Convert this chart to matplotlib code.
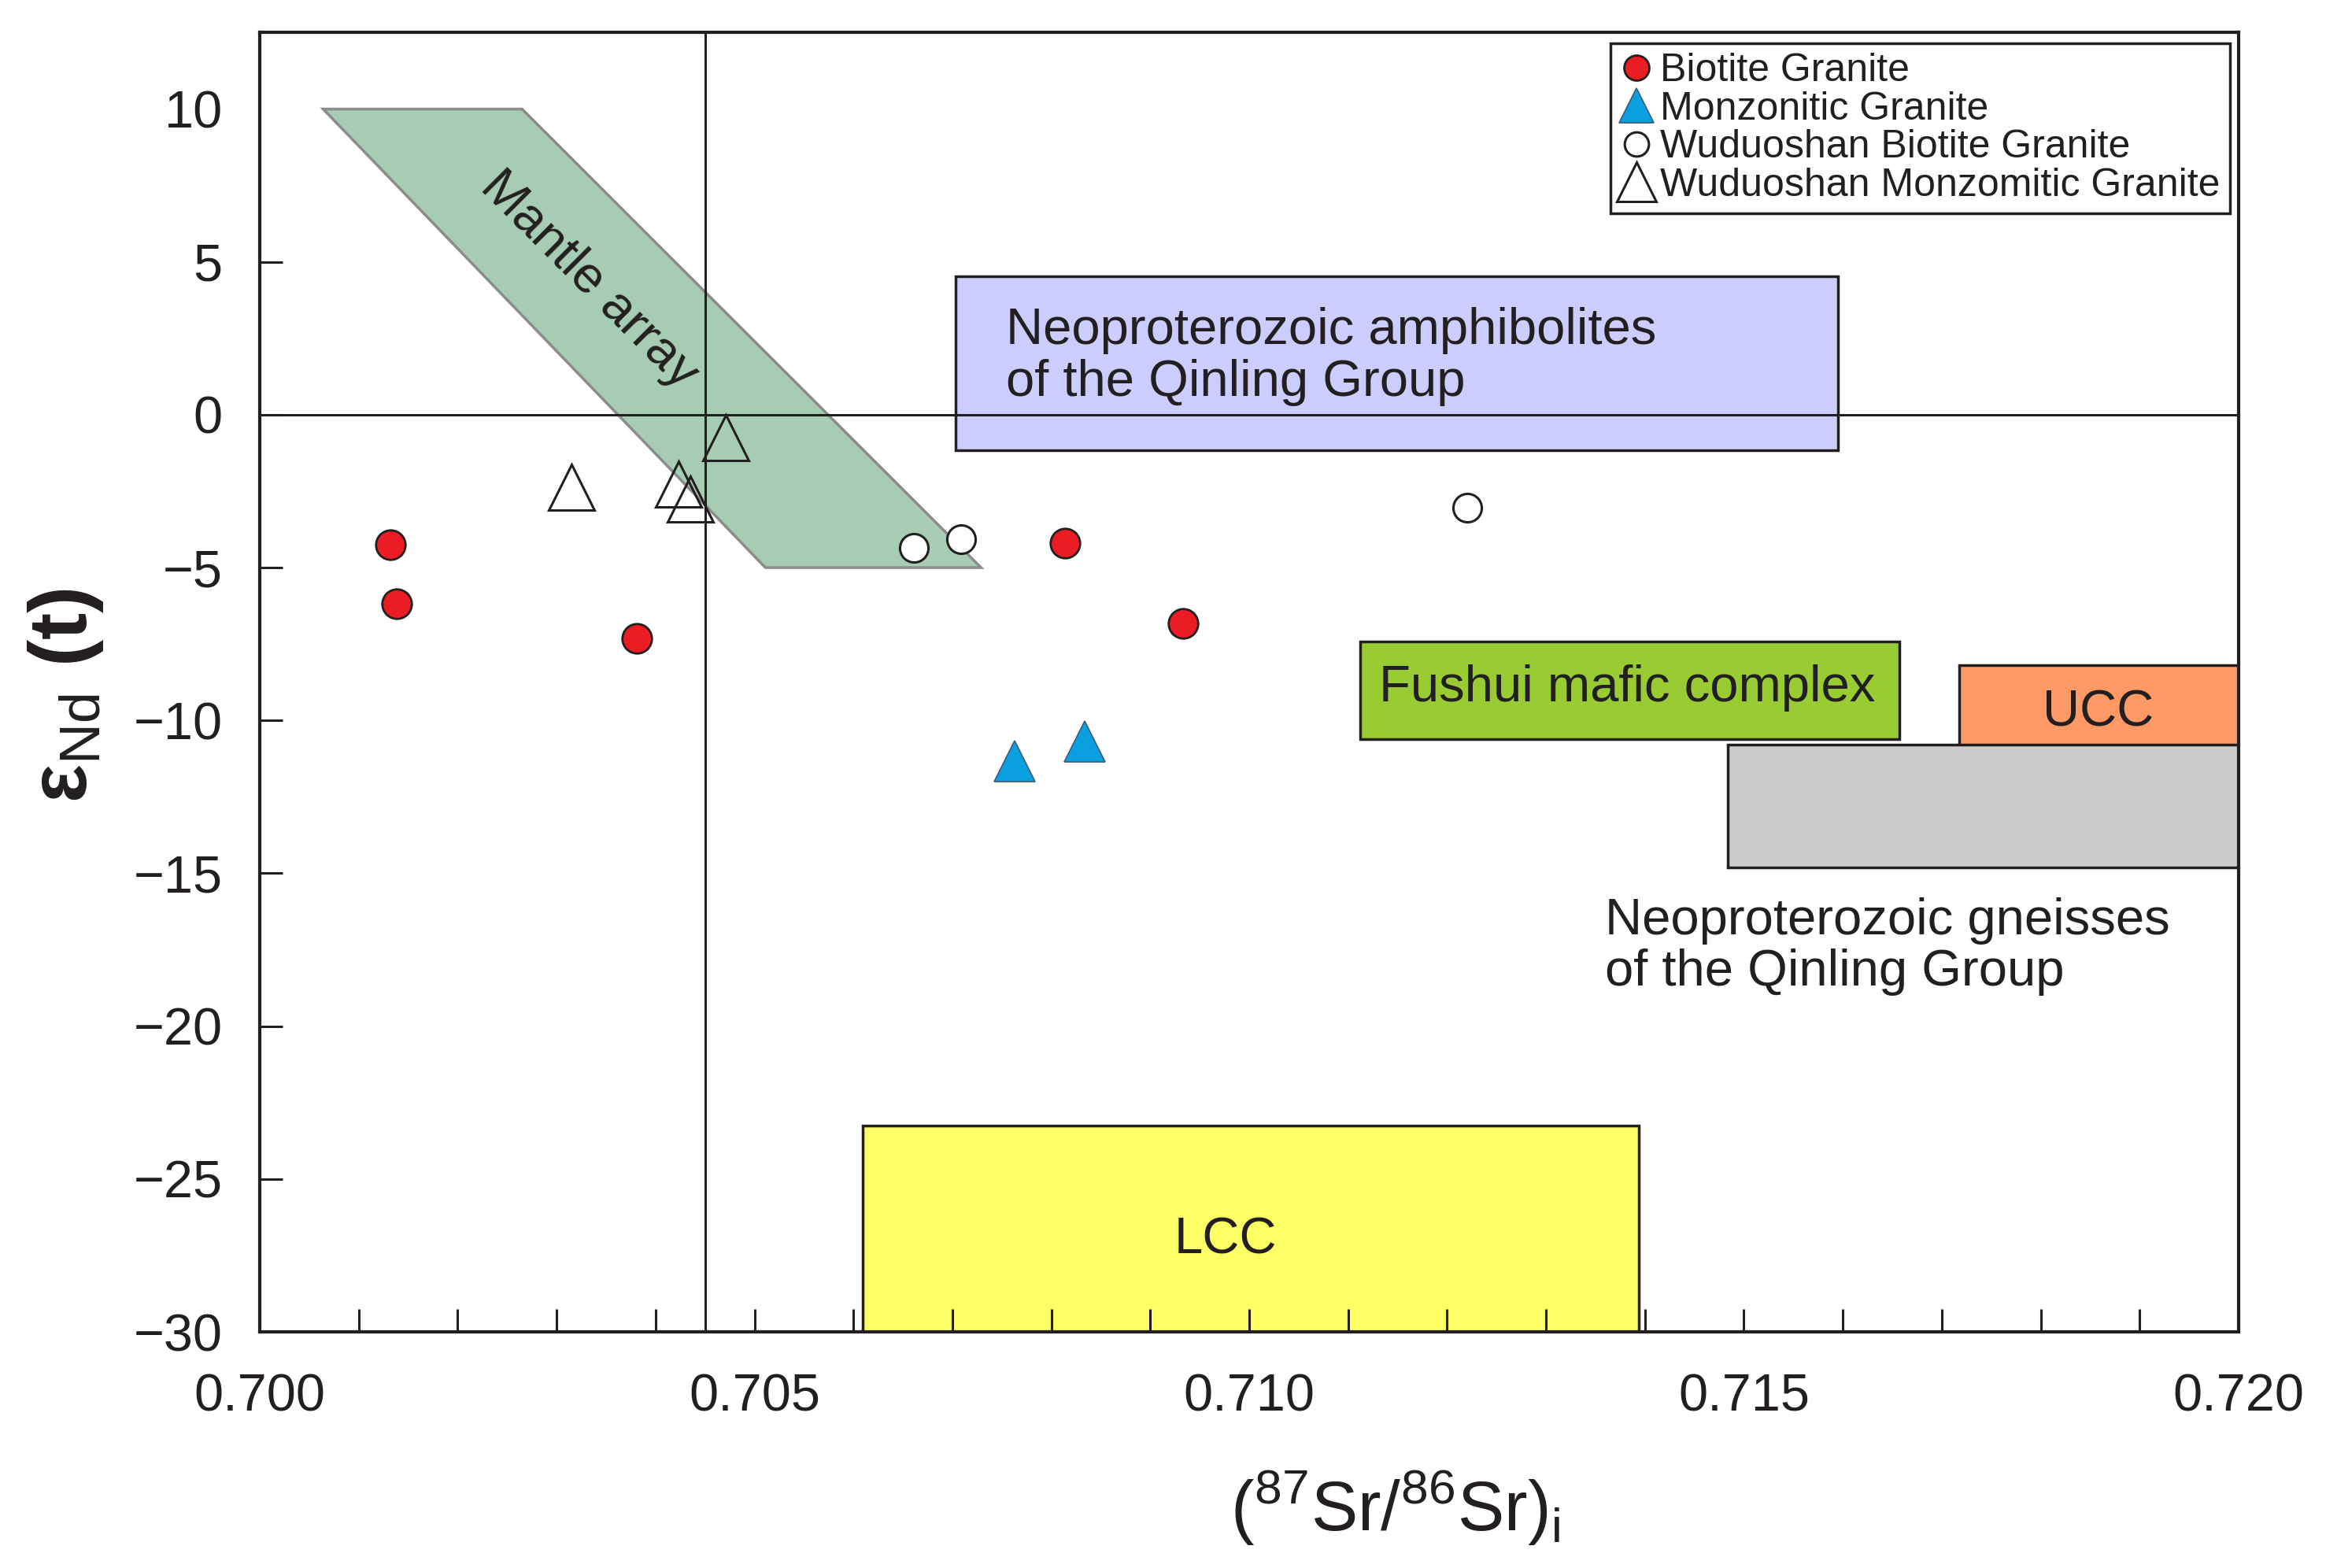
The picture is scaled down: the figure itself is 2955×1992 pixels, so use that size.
import matplotlib
matplotlib.use("Agg")
import matplotlib.pyplot as plt
from matplotlib.patches import Polygon, Rectangle
import numpy as np

plt.rcParams['font.family'] = ['Liberation Sans', 'DejaVu Sans']
plt.rcParams['mathtext.fontset'] = 'custom'
plt.rcParams['mathtext.rm'] = 'Liberation Sans'

# sample data
bio_sr = [0.70132, 0.70138, 0.70381, 0.70814, 0.70933]
bio_nd = [-4.25, -6.19, -7.31, -4.21, -6.82]
mon_sr = [0.70763, 0.70834]
mon_nd = [-11.33, -10.70]
wbio_sr = [0.70661, 0.70709, 0.71220]
wbio_nd = [-4.35, -4.06, -3.04]
wmon_sr = [0.70315, 0.70423, 0.70435, 0.70471]
wmon_nd = [-2.36, -2.27, -2.75, -0.76]

# reference fields
mantle_sr = [0.70064, 0.70265, 0.70729, 0.70511]
mantle_nd = [10.0, 10.0, -5.0, -5.0]
# boxes: amphibolites, Fushui, UCC, gneisses, LCC
field_sr = [(0.70703, 0.71595), (0.71112, 0.71657), (0.71718, 0.7200),
            (0.71484, 0.7200), (0.70609, 0.71394)]
field_nd = [(-1.15, 4.52), (-10.61, -7.41), (-11.19, -8.18),
            (-14.82, -10.80), (-30.0, -23.26)]
field_colors = ['#ccccff', '#99cc33', '#ff9966', '#cccccc', '#ffff66']

bulk_earth_sr = 0.7045
chur_nd = 0.0

ink = '#231f20'

fig = plt.figure(figsize=(29.55, 19.92), dpi=100)
ax = fig.add_axes([0.1117, 0.1506, 0.8507, 0.8286])

ax.add_patch(Polygon(np.column_stack([mantle_sr, mantle_nd]), closed=True,
                     facecolor='#a6cdb3', edgecolor='#8c8c8c', lw=2.5, zorder=1))
for (x0, x1), (y0, y1), c in zip(field_sr, field_nd, field_colors):
    ax.add_patch(Rectangle((x0, y0), x1 - x0, y1 - y0, facecolor=c,
                           edgecolor=ink, lw=2.5, zorder=1))

ax.axhline(chur_nd, color=ink, lw=2.2, zorder=2)
ax.axvline(bulk_earth_sr, color=ink, lw=2.2, zorder=2)

h1, = ax.plot(bio_sr, bio_nd, 'o', ms=27, mfc='#ec1c24', mec=ink, mew=2, ls='none',
              zorder=5, label='Biotite Granite')
h2, = ax.plot(mon_sr, mon_nd, '^', ms=37, mfc='#0aa0e0', mec='#3a5a7a', mew=1.2, ls='none',
              zorder=5, label='Monzonitic Granite')
h3, = ax.plot(wbio_sr, wbio_nd, 'o', ms=26, mfc='white', mec=ink, mew=2.2, ls='none',
              zorder=5, label='Wuduoshan Biotite Granite')
h4, = ax.plot(wmon_sr, wmon_nd, '^', ms=42, mfc='none', mec=ink, mew=2.2, ls='none',
              zorder=5, label='Wuduoshan Monzomitic Granite')

tfs = 47
ax.text(0.70333, 4.4, 'Mantle array', rotation=-45, ha='center', va='center',
        fontsize=tfs, color=ink, rotation_mode='anchor', zorder=3)
ax.text(0.70754, 1.9, 'Neoproterozoic amphibolites\nof the Qinling Group', ha='left',
        va='center', fontsize=tfs, color=ink, linespacing=1.12, zorder=3)
ax.text(0.71382, -8.95, 'Fushui mafic complex', ha='center', va='center',
        fontsize=tfs, color=ink, zorder=3)
ax.text(0.71858, -9.75, 'UCC', ha='center', va='center', fontsize=tfs, color=ink, zorder=3)
ax.text(0.71360, -17.4, 'Neoproterozoic gneisses\nof the Qinling Group', ha='left',
        va='center', fontsize=tfs, color=ink, linespacing=1.12, zorder=3)
ax.text(0.70976, -27.0, 'LCC', ha='center', va='center', fontsize=tfs, color=ink, zorder=3)

ax.set_xlim(0.700, 0.720)
ax.set_ylim(-30, 12.5)
ax.set_xticks(np.arange(0.700, 0.7201, 0.005))
ax.set_xticks(np.arange(0.700, 0.7201, 0.001), minor=True)
ax.set_xticklabels(['0.700', '0.705', '0.710', '0.715', '0.720'])
ax.set_yticks(np.arange(-30, 11, 5))
ax.tick_params(axis='both', which='both', direction='in', length=21, width=2.2,
               color=ink, labelcolor=ink, labelsize=48, top=False, right=False)
ax.tick_params(axis='x', which='major', pad=38)
ax.tick_params(axis='y', which='major', pad=34)
ax.yaxis.get_major_ticks()[-1].tick1line.set_visible(False)
for s in ax.spines.values():
    s.set_linewidth(3)
    s.set_color(ink)
    s.set_zorder(6)

ax.set_xlabel(r'($^{87}$Sr/$^{86}$Sr)$_{\rm i}$', fontsize=64, color=ink)
ax.xaxis.set_label_coords(0.574, -0.105)
ax.set_ylabel(r'ε$_{\rm Nd}$ (t)', fontsize=74, fontweight='bold', color=ink)
ax.yaxis.set_label_coords(-0.078, 0.49)

leg = ax.legend(handles=[h1, h2, h3, h4], loc='upper right', bbox_to_anchor=(0.9956, 0.9918),
                borderaxespad=0, fontsize=36, frameon=True, fancybox=False,
                edgecolor=ink, markerscale=0.85, handlelength=0.8, handletextpad=0.2,
                labelspacing=0.05, borderpad=0.25, framealpha=1)
leg.get_frame().set_linewidth(2.5)
for t in leg.get_texts():
    t.set_color(ink)

fig.savefig('out.png', dpi=100)
